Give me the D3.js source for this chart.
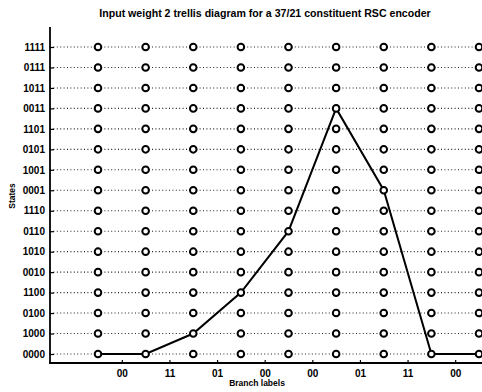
<!DOCTYPE html>
<html><head><meta charset="utf-8">
<script src="https://cdn.jsdelivr.net/npm/d3@7"></script>
<style>body{margin:0;background:#fff}svg{display:block}text{font-family:"Liberation Sans",Arial,sans-serif;font-weight:bold;fill:#000}</style>
</head><body>
<script>
const states = ["1111","0111","1011","0011","1101","0101","1001","0001","1110","0110","1010","0010","1100","0100","1000","0000"];
const steps = [0,1,2,3,4,5,6,7,8];
const branchLabels = ["00","11","01","00","00","01","11","00"];
const pathStates = ["0000","0000","1000","1100","0110","0011","0001","0000","0000"];
const titleText = "Input weight 2 trellis diagram for a 37/21 constituent RSC encoder";

(function () {
const W = 482, H = 392;
const svg = d3.select("body").append("svg").attr("width", W).attr("height", H);

const x = d3.scaleLinear().domain([0, 8]).range([98, 479]);
const y = d3.scalePoint().domain(states).range([47, 354]);
const axLeft = 50, axBottom = 363, axTop = 27;

// grid dotted lines
svg.append("g").selectAll("line").data(states).join("line")
  .attr("x1", axLeft).attr("x2", W)
  .attr("y1", d => y(d)).attr("y2", d => y(d))
  .attr("stroke", "#222").attr("stroke-width", 1.1).attr("stroke-dasharray", "1,2.4");

// path
const line = d3.line().x((d,i) => x(steps[i])).y(d => y(d));
svg.append("path").datum(pathStates).attr("d", line)
  .attr("fill", "none").attr("stroke", "#000").attr("stroke-width", 2);

// circles
const pts = [];
steps.forEach(s => states.forEach(st => pts.push([s, st])));
svg.append("g").selectAll("circle").data(pts).join("circle")
  .attr("cx", d => x(d[0])).attr("cy", d => y(d[1])).attr("r", 3.3)
  .attr("fill", "#fff").attr("stroke", "#000").attr("stroke-width", 2);

// y axis
const yAxis = d3.axisLeft(y).tickSize(-4).tickPadding(5);
const gy = svg.append("g").attr("transform", `translate(${axLeft},0)`).call(yAxis);
gy.select(".domain").remove();
gy.selectAll(".tick line").attr("stroke", "#000").attr("stroke-width", 1.2);
gy.selectAll(".tick text").attr("font-size", 10).attr("font-family", "Liberation Sans, Arial, sans-serif").attr("font-weight", "bold");
svg.append("line").attr("x1", axLeft).attr("x2", axLeft).attr("y1", axTop).attr("y2", axBottom)
  .attr("stroke", "#000").attr("stroke-width", 1.8);

// x axis
const mids = branchLabels.map((d, i) => i + 0.5);
const xAxis = d3.axisBottom(x).tickValues(mids).tickFormat((d, i) => branchLabels[i]).tickSize(-3).tickPadding(7);
const gx = svg.append("g").attr("transform", `translate(0,${axBottom})`).call(xAxis);
gx.select(".domain").remove();
gx.selectAll(".tick line").attr("stroke", "#000").attr("stroke-width", 1.2);
gx.selectAll(".tick text").attr("font-size", 10).attr("font-family", "Liberation Sans, Arial, sans-serif").attr("font-weight", "bold");
svg.append("line").attr("x1", axLeft - 1).attr("x2", W).attr("y1", axBottom).attr("y2", axBottom)
  .attr("stroke", "#000").attr("stroke-width", 2);

// labels
svg.append("text").attr("x", 265).attr("y", 17).attr("text-anchor", "middle")
  .attr("font-size", 10.6).text(titleText);
svg.append("text").attr("x", 257).attr("y", 386).attr("text-anchor", "middle")
  .attr("font-size", 8.5).text("Branch labels");
svg.append("text").attr("transform", "translate(15,196) rotate(-90)").attr("text-anchor", "middle")
  .attr("font-size", 8.5).text("States");
})();
</script>
</body></html>
